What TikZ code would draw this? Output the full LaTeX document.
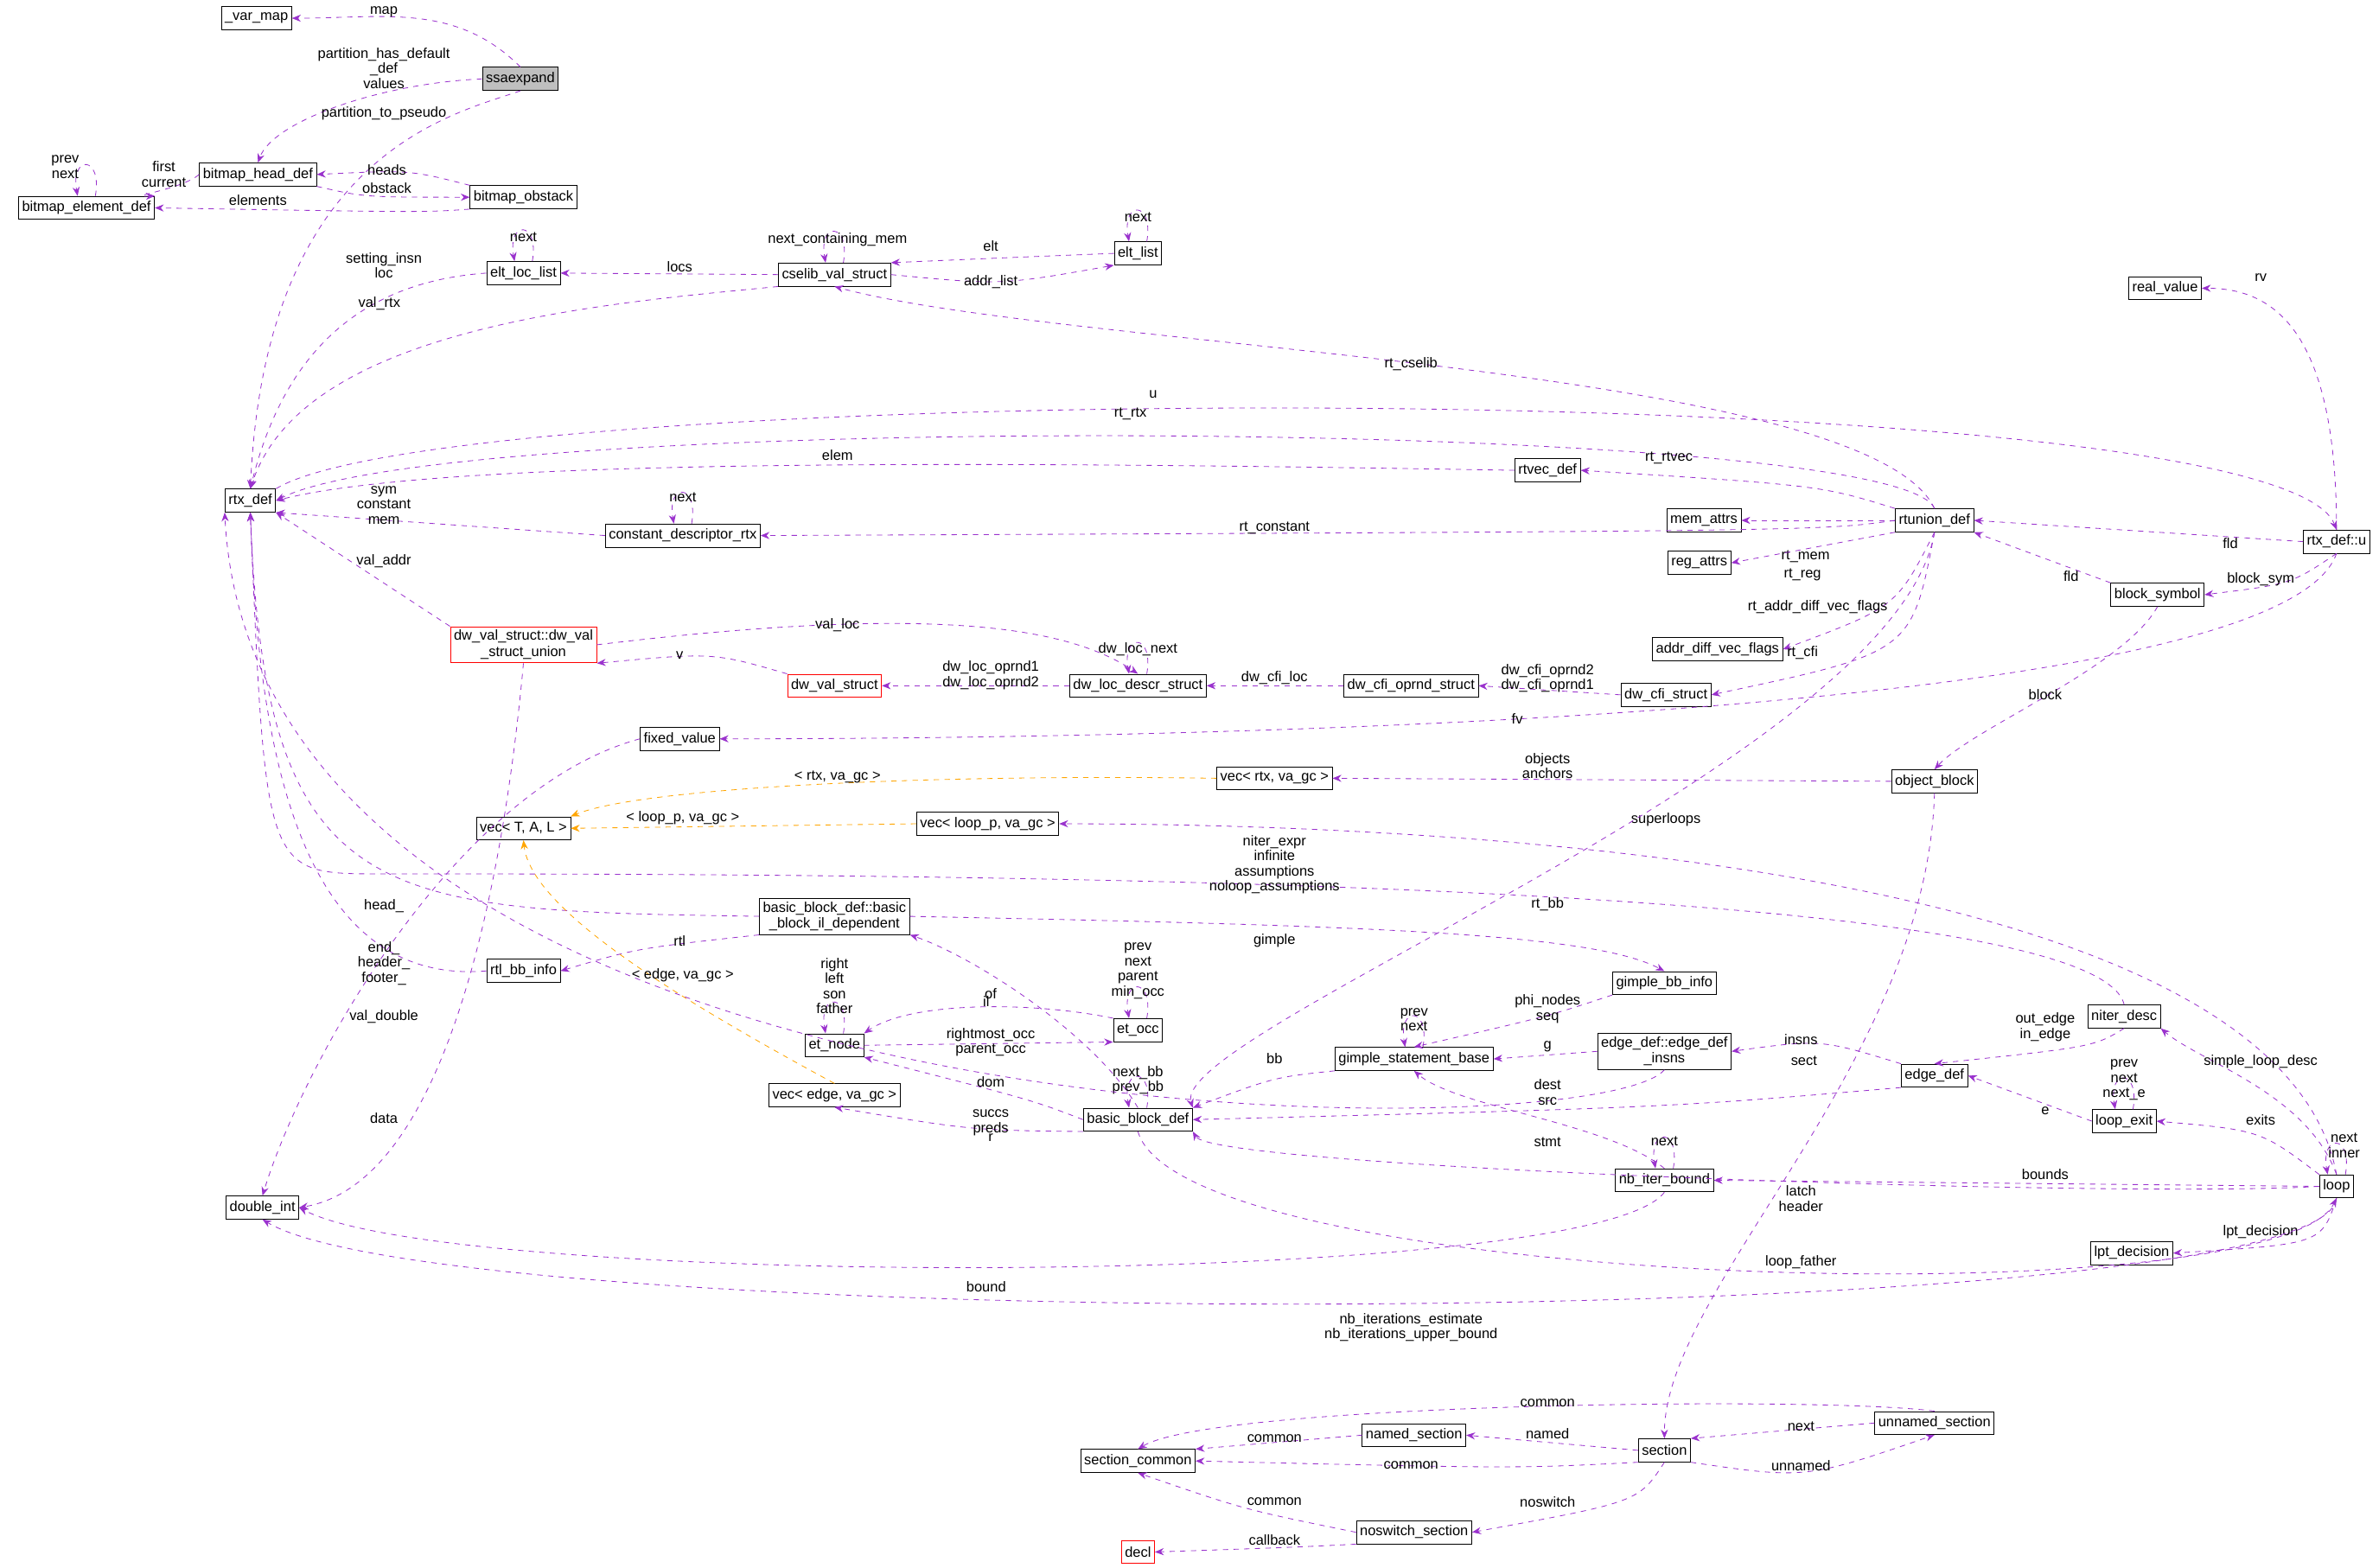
\documentclass[tikz,border=0pt]{standalone}
\usepackage{fontspec}
\setmainfont{Liberation Sans}
\usetikzlibrary{arrows.meta}
\definecolor{lnkviolet}{HTML}{9A32CD}
\definecolor{lnkorange}{HTML}{FFA500}
\newcommand{\lbl}[2]{\node[lab] at (#1) {#2};}
\begin{document}
\begin{tikzpicture}[x=0.3mm,y=-0.3mm,
    box/.style ={rectangle, draw=black, fill=white, inner sep=2pt, minimum height=13, font=\fontsize{8}{9}\selectfont},
    redbox/.style ={box, draw=red, align=center},
    lab/.style ={draw=none, fill=none, inner sep=0pt, align=center, font=\fontsize{8}{8.5}\selectfont},
    lk/.style ={draw=lnkviolet, dashed, -{Stealth[length=5pt,width=4pt]}},
    tk/.style ={draw=lnkorange, dashed, -{Stealth[length=5pt,width=4pt]}},
    selfloop/.style ={lk, out=80, in=100, looseness=6}]
    \useasboundingbox (0,0) rectangle (1568,1033);
    % type nodes
    \node[box] (varmap) at (169,12) {\_var\_map};
    \node[box, fill=black!25] (ssaexpand) at (343,52) {ssaexpand};
    \node[box] (bmhead) at (170,115) {bitmap\_head\_def};
    \node[box] (bmobstack) at (345,130) {bitmap\_obstack};
    \node[box] (bmelem) at (57,137) {bitmap\_element\_def};
    \node[box] (eltloc) at (345,180) {elt\_loc\_list};
    \node[box] (cselib) at (550,181) {cselib\_val\_struct};
    \node[box] (eltlist) at (750,167) {elt\_list};
    \node[box] (realval) at (1427,190) {real\_value};
    \node[box] (rtxdef) at (165,330) {rtx\_def};
    \node[box] (rtvec) at (1020,310) {rtvec\_def};
    \node[box] (cdrtx) at (450,353) {constant\_descriptor\_rtx};
    \node[box] (rtunion) at (1275,343) {rtunion\_def};
    \node[box] (rtxu) at (1540,357) {rtx\_def::u};
    \node[box] (memattrs) at (1123,343) {mem\_attrs};
    \node[box] (regattrs) at (1120,371) {reg\_attrs};
    \node[box] (blocksym) at (1422,392) {block\_symbol};
    \node[box] (advf) at (1132,428) {addr\_diff\_vec\_flags};
    \node[redbox] (dwunion) at (345,425) {dw\_val\_struct::dw\_val\\\_struct\_union};
    \node[redbox] (dwval) at (550,452) {dw\_val\_struct};
    \node[box] (dwloc) at (750,452) {dw\_loc\_descr\_struct};
    \node[box] (dwcfiop) at (930,452) {dw\_cfi\_oprnd\_struct};
    \node[box] (dwcfi) at (1098,458) {dw\_cfi\_struct};
    \node[box] (fixedval) at (448,487) {fixed\_value};
    \node[box] (vecrtx) at (840,513) {vec< rtx, va\_gc >};
    \node[box] (objblock) at (1275,515) {object\_block};
    \node[box] (vecT) at (345,546) {vec< T, A, L >};
    \node[box] (vecloop) at (651,543) {vec< loop\_p, va\_gc >};
    \node[box, align=center] (bbil) at (550,604) {basic\_block\_def::basic\\\_block\_il\_dependent};
    \node[box] (rtlbb) at (345,640) {rtl\_bb\_info};
    \node[box] (gimplebb) at (1097,648) {gimple\_bb\_info};
    \node[box] (etnode) at (550,689) {et\_node};
    \node[box] (etocc) at (750,679) {et\_occ};
    \node[box] (niter) at (1400,670) {niter\_desc};
    \node[box] (gsb) at (932,698) {gimple\_statement\_base};
    \node[box, align=center] (edgeinsns) at (1097,693) {edge\_def::edge\_def\\\_insns};
    \node[box] (edgedef) at (1275,709) {edge\_def};
    \node[box] (vecedge) at (550,722) {vec< edge, va\_gc >};
    \node[box] (bbdef) at (750,738) {basic\_block\_def};
    \node[box] (loopexit) at (1400,739) {loop\_exit};
    \node[box] (loop) at (1540,782) {loop};
    \node[box] (nbiter) at (1097,778) {nb\_iter\_bound};
    \node[box] (dblint) at (173,796) {double\_int};
    \node[box] (lpt) at (1405,826) {lpt\_decision};
    \node[box] (unnamed) at (1275,938) {unnamed\_section};
    \node[box] (named) at (932,946) {named\_section};
    \node[box] (seccommon) at (750,963) {section\_common};
    \node[box] (section) at (1097,956) {section};
    \node[box] (noswitch) at (932,1010) {noswitch\_section};
    \node[redbox] (decl) at (750,1023) {decl};
    % member links
    \draw[lk] (ssaexpand.north) to[out=135,in=0] (varmap.east); \lbl{253,8}{map}
    \draw[lk] (ssaexpand.west) .. controls (250,55) and (180,80) .. (bmhead.north); \lbl{253,45}{partition\_has\_default\\\_def\\values}
    \draw[lk] (ssaexpand.south) .. controls (300,75) and (175,100) .. (rtxdef.north); \lbl{253,75}{partition\_to\_pseudo}
    \draw[lk] (bmhead.west) .. controls (120,125) and (80,130) .. (bmelem.north east); \lbl{108,115}{first\\current}
    \draw[lk] (bmhead.south east) .. controls (240,130) .. (bmobstack.west); \lbl{255,124}{obstack}
    \draw[lk] (bmobstack.north west) .. controls (270,112) .. (bmhead.east); \lbl{255,112}{heads}
    \draw[lk] (bmobstack.south west) .. controls (280,140) .. (bmelem.east); \lbl{170,132}{elements}
    \draw[selfloop] ([xshift=5]bmelem.north) to ([xshift=-5]bmelem.north); \lbl{43,110}{prev\\next}
    \draw[lk] (eltloc.west) .. controls (250,185) and (190,220) .. (rtxdef.north); \lbl{253,175}{setting\_insn\\loc}
    \draw[selfloop] ([xshift=5]eltloc.north) to ([xshift=-5]eltloc.north); \lbl{345,156}{next}
    \draw[lk] (cselib.west) -- (eltloc.east); \lbl{448,176}{locs}
    \draw[selfloop] ([xshift=5]cselib.north) to ([xshift=-5]cselib.north); \lbl{552,158}{next\_containing\_mem}
    \draw[lk] (cselib.south west) .. controls (400,200) and (200,215) .. (rtxdef.north); \lbl{250,200}{val\_rtx}
    \draw[lk] (eltlist.west) .. controls (660,170) .. (cselib.north east); \lbl{653,162}{elt}
    \draw[lk] (cselib.east) .. controls (660,188) .. (eltlist.south west); \lbl{653,186}{addr\_list}
    \draw[selfloop] ([xshift=5]eltlist.north) to ([xshift=-5]eltlist.north); \lbl{750,143}{next}
    \draw[lk] (rtunion.north) .. controls (1230,240) and (700,230) .. (cselib.south); \lbl{930,240}{rt\_cselib}
    \draw[lk] (rtxdef.north east) .. controls (300,250) and (1500,245) .. (rtxu.north); \lbl{760,260}{u}
    \draw[lk] (rtunion.north) .. controls (1250,275) and (300,270) .. (rtxdef.east); \lbl{745,273}{rt\_rtx}
    \draw[lk] (rtvec.west) .. controls (700,305) and (300,300) .. (rtxdef.east); \lbl{552,300}{elem}
    \draw[lk] (rtunion.north west) .. controls (1200,320) .. (rtvec.east); \lbl{1100,302}{rt\_rtvec}
    \draw[lk] (cdrtx.west) -- (rtxdef.south east); \lbl{253,333}{sym\\constant\\mem}
    \draw[selfloop] ([xshift=5]cdrtx.north) to ([xshift=-5]cdrtx.north); \lbl{450,328}{next}
    \draw[lk] (rtunion.west) .. controls (1200,350) .. (cdrtx.east); \lbl{840,348}{rt\_constant}
    \draw[lk] (rtxu.west) -- (rtunion.east); \lbl{1470,358}{fld}
    \draw[lk] (rtunion.west) -- (memattrs.east); \lbl{1190,367}{rt\_mem}
    \draw[lk] (rtunion.south west) -- (regattrs.east); \lbl{1188,379}{rt\_reg}
    \draw[lk] (rtunion.south) .. controls (1250,400) .. (advf.east); \lbl{1198,400}{rt\_addr\_diff\_vec\_flags}
    \draw[lk] (rtunion.south) .. controls (1260,430) .. (dwcfi.east); \lbl{1188,430}{rt\_cfi}
    \draw[lk] (blocksym.north west) -- (rtunion.south east); \lbl{1365,380}{fld}
    \draw[lk] (rtxu.south) .. controls (1510,385) .. (blocksym.east); \lbl{1490,382}{block\_sym}
    \draw[lk] (rtxu.north) .. controls (1540,220) and (1500,190) .. (realval.east); \lbl{1490,183}{rv}
    \draw[lk] (rtxu.south) .. controls (1500,480) and (700,487) .. (fixedval.east); \lbl{1000,474}{fv}
    \draw[lk] (blocksym.south) .. controls (1400,440) and (1300,480) .. (objblock.north); \lbl{1348,458}{block}
    \draw[lk] (dwunion.north west) -- (rtxdef.south east); \lbl{253,370}{val\_addr}
    \draw[lk] (dwunion.east) .. controls (600,400) and (700,410) .. (dwloc.north); \lbl{552,412}{val\_loc}
    \draw[lk] (dwval.north west) .. controls (470,430) .. (dwunion.south east); \lbl{448,432}{v}
    \draw[lk] (dwloc.west) -- (dwval.east); \lbl{653,445}{dw\_loc\_oprnd1\\dw\_loc\_oprnd2}
    \draw[selfloop] ([xshift=5]dwloc.north) to ([xshift=-5]dwloc.north); \lbl{750,428}{dw\_loc\_next}
    \draw[lk] (dwcfiop.west) -- (dwloc.east); \lbl{840,447}{dw\_cfi\_loc}
    \draw[lk] (dwcfi.west) -- (dwcfiop.east); \lbl{1020,447}{dw\_cfi\_oprnd2\\dw\_cfi\_oprnd1}
    \draw[lk] (dwunion.south) .. controls (330,600) and (290,780) .. (dblint.east); \lbl{253,670}{val\_double}
    \draw[lk] (fixedval.west) .. controls (300,520) and (200,700) .. (dblint.north); \lbl{253,737}{data}
    \draw[tk] (vecrtx.west) .. controls (600,510) and (420,520) .. (vecT.north east); \lbl{552,512}{< rtx, va\_gc >}
    \draw[lk] (objblock.west) -- (vecrtx.east); \lbl{1020,505}{objects\\anchors}
    \draw[tk] (vecloop.west) -- (vecT.east); \lbl{450,539}{< loop\_p, va\_gc >}
    \draw[lk] (loop.north) .. controls (1500,560) and (900,543) .. (vecloop.east); \lbl{1098,540}{superloops}
    \draw[lk] (niter.north) .. controls (1380,578) and (600,576) .. (250,576) .. controls (175,576) .. (rtxdef.south); \lbl{840,570}{niter\_expr\\infinite\\assumptions\\noloop\_assumptions}
    \draw[lk] (bbil.west) .. controls (250,600) and (175,600) .. (rtxdef.south); \lbl{253,597}{head\_}
    \draw[lk] (bbil.south west) .. controls (420,625) .. (rtlbb.east); \lbl{448,620}{rtl}
    \draw[lk] (rtlbb.west) .. controls (200,650) and (170,500) .. (rtxdef.south); \lbl{253,635}{end\_\\header\_\\footer\_}
    \draw[lk] (bbil.east) .. controls (900,610) and (1050,615) .. (gimplebb.north); \lbl{840,620}{gimple}
    \draw[lk] (bbdef.north) .. controls (720,680) and (640,630) .. (bbil.south east); \lbl{650,660}{il}
    \draw[lk] (rtunion.south) .. controls (1250,500) and (770,680) .. (bbdef.north east); \lbl{1020,596}{rt\_bb}
    \draw[tk] (vecedge.north) .. controls (450,660) and (350,600) .. (vecT.south); \lbl{450,643}{< edge, va\_gc >}
    \draw[selfloop] ([xshift=5]etnode.north) to ([xshift=-5]etnode.north); \lbl{550,650}{right\\left\\son\\father}
    \draw[lk] (etocc.north west) .. controls (680,660) and (600,660) .. (etnode.north east); \lbl{653,655}{of}
    \draw[lk] (etnode.east) -- (etocc.south west); \lbl{653,687}{rightmost\_occ\\parent\_occ}
    \draw[selfloop] ([xshift=5]etocc.north) to ([xshift=-5]etocc.north); \lbl{750,640}{prev\\next\\parent\\min\_occ}
    \draw[lk] (bbdef.west) .. controls (680,725) .. (etnode.south east); \lbl{653,713}{dom}
    \draw[lk] (bbdef.south west) .. controls (640,745) .. (vecedge.south); \lbl{653,740}{succs\\preds}
    \draw[selfloop] ([xshift=5]bbdef.north) to ([xshift=-5]bbdef.north); \lbl{750,712}{next\_bb\\prev\_bb}
    \draw[lk] (gimplebb.south west) .. controls (1020,670) .. (gsb.north); \lbl{1020,665}{phi\_nodes\\seq}
    \draw[selfloop] ([xshift=5]gsb.north) to ([xshift=-5]gsb.north); \lbl{932,672}{prev\\next}
    \draw[lk] (gsb.south west) .. controls (840,710) .. (bbdef.north east); \lbl{840,698}{bb}
    \draw[lk] (edgeinsns.west) -- (gsb.east); \lbl{1020,690}{g}
    \draw[lk] (edgeinsns.south) .. controls (1050,760) and (170,760) .. (rtxdef.south west); \lbl{653,750}{r}
    \draw[lk] (edgedef.north west) .. controls (1200,685) .. (edgeinsns.east); \lbl{1187,685}{insns}
    \draw[lk] (edgedef.south west) .. controls (1100,730) .. (bbdef.east); \lbl{1020,720}{dest\\src}
    \draw[lk] (niter.south) .. controls (1380,690) .. (edgedef.north); \lbl{1348,677}{out\_edge\\in\_edge}
    \draw[lk] (loop.north) .. controls (1520,720) and (1450,700) .. (niter.south east); \lbl{1490,700}{simple\_loop\_desc}
    \draw[lk] (loopexit.west) -- (edgedef.east); \lbl{1348,732}{e}
    \draw[selfloop] ([xshift=5]loopexit.north) to ([xshift=-5]loopexit.north); \lbl{1400,712}{prev\\next\\next\_e}
    \draw[lk] (loop.north west) .. controls (1490,745) .. (loopexit.east); \lbl{1490,738}{exits}
    \draw[selfloop] ([xshift=5]loop.north) to ([xshift=-5]loop.north); \lbl{1545,755}{next\\inner}
    \draw[lk] (nbiter.north) .. controls (1060,740) and (960,730) .. (gsb.south); \lbl{1020,753}{stmt}
    \draw[selfloop] ([xshift=5]nbiter.north) to ([xshift=-5]nbiter.north); \lbl{1097,752}{next}
    \draw[lk] (loop.west) -- (nbiter.east); \lbl{1348,774}{bounds}
    \draw[lk] (loop.west) .. controls (1400,790) and (800,770) .. (bbdef.south east); \lbl{1187,790}{latch\\header}
    \draw[lk] (bbdef.south) .. controls (780,850) and (1500,870) .. (loop.south); \lbl{1187,832}{loop\_father}
    \draw[lk] (loop.south) .. controls (1530,820) .. (lpt.east); \lbl{1490,812}{lpt\_decision}
    \draw[lk] (nbiter.south) .. controls (1050,850) and (300,850) .. (dblint.east); \lbl{650,848}{bound}
    \draw[lk] (loop.south) .. controls (1530,880) and (300,880) .. (dblint.south); \lbl{930,875}{nb\_iterations\_estimate\\nb\_iterations\_upper\_bound}
    \draw[lk] (objblock.south) .. controls (1270,700) and (1097,850) .. (section.north); \lbl{1189,699}{sect}
    \draw[lk] (unnamed.north) .. controls (1200,920) and (800,925) .. (seccommon.north); \lbl{1020,925}{common}
    \draw[lk] (named.west) -- (seccommon.north east); \lbl{840,948}{common}
    \draw[lk] (section.west) -- (named.east); \lbl{1020,945}{named}
    \draw[lk] (section.south west) .. controls (1000,968) .. (seccommon.east); \lbl{930,966}{common}
    \draw[lk] (section.south east) .. controls (1190,975) .. (unnamed.south); \lbl{1187,966}{unnamed}
    \draw[lk] (unnamed.west) -- (section.north east); \lbl{1187,940}{next}
    \draw[lk] (noswitch.west) .. controls (820,995) .. (seccommon.south); \lbl{840,990}{common}
    \draw[lk] (section.south) .. controls (1080,990) .. (noswitch.east); \lbl{1020,990}{noswitch}
    \draw[lk] (noswitch.south west) .. controls (850,1020) .. (decl.east); \lbl{840,1015}{callback}
\end{tikzpicture}
\end{document}
